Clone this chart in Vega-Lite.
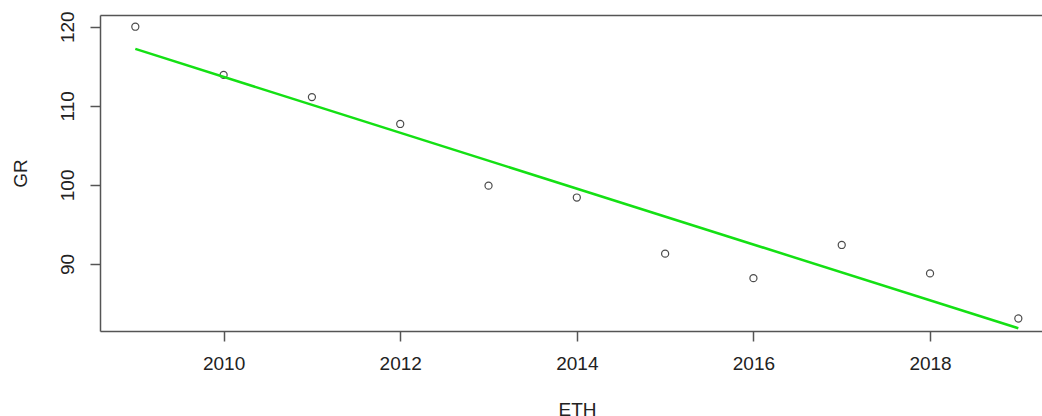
{
  "$schema": "https://vega.github.io/schema/vega-lite/v6.json",
  "width": 942,
  "height": 316,
  "autosize": {"type": "none"},
  "padding": {"left": 100, "top": 15, "right": 0, "bottom": 85},
  "background": "white",
  "config": {
    "view": {"stroke": null},
    "font": "Liberation Sans",
    "axis": {
      "grid": false,
      "domainColor": "#555",
      "domainWidth": 1.5,
      "tickColor": "#555",
      "tickWidth": 1.5,
      "tickSize": 10,
      "labelFont": "Liberation Sans",
      "labelFontSize": 19,
      "labelColor": "#222",
      "titleFont": "Liberation Sans",
      "titleFontSize": 19,
      "titleFontWeight": "normal",
      "titleColor": "#222"
    }
  },
  "data": {
    "values": [
      {"year": 2009, "gr": 120.0},
      {"year": 2010, "gr": 113.9},
      {"year": 2011, "gr": 111.1},
      {"year": 2012, "gr": 107.7},
      {"year": 2013, "gr": 99.9},
      {"year": 2014, "gr": 98.4},
      {"year": 2015, "gr": 91.3},
      {"year": 2016, "gr": 88.2},
      {"year": 2017, "gr": 92.4},
      {"year": 2018, "gr": 88.8},
      {"year": 2019, "gr": 83.1}
    ]
  },
  "layer": [
    {
      "mark": {"type": "point", "shape": "circle", "filled": false, "color": "black", "size": 50, "strokeWidth": 1.2},
      "encoding": {
        "x": {
          "field": "year", "type": "quantitative",
          "scale": {"domain": [2008.6, 2019.268], "nice": false, "zero": false},
          "axis": {
            "orient": "bottom",
            "values": [2010, 2012, 2014, 2016, 2018],
            "format": "d",
            "labelPadding": 13,
            "title": "ETH",
            "titleX": 477,
            "titleY": 69,
            "titleAlign": "center",
            "titleBaseline": "top",
            "titleAnchor": null
          }
        },
        "y": {
          "field": "gr", "type": "quantitative",
          "scale": {"domain": [81.52, 121.48], "nice": false, "zero": false},
          "axis": {
            "orient": "left",
            "values": [90, 100, 110, 120],
            "labelAngle": -90,
            "labelAlign": "center",
            "labelBaseline": "alphabetic",
            "labelPadding": 17,
            "title": "GR",
            "titleAngle": -90,
            "titleX": -80,
            "titleY": 158,
            "titleAlign": "center",
            "titleBaseline": "middle"
          }
        }
      }
    },
    {
      "transform": [{"regression": "gr", "on": "year"}],
      "mark": {"type": "line", "color": "#14e014", "strokeWidth": 2.5},
      "encoding": {
        "x": {
          "field": "year", "type": "quantitative",
          "axis": {"orient": "top", "labels": false, "ticks": false, "title": null}
        },
        "y": {"field": "gr", "type": "quantitative"}
      }
    }
  ],
  "resolve": {"axis": {"x": "independent"}}
}
